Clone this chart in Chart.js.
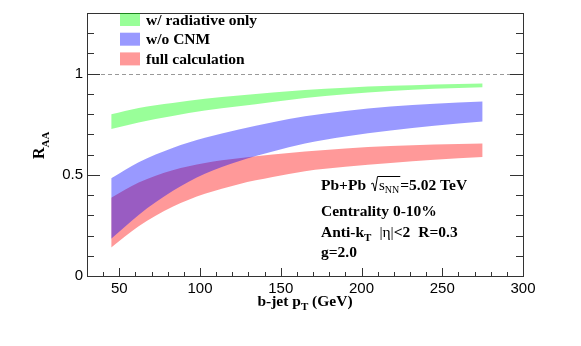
<!DOCTYPE html>
<html>
<head>
<meta charset="utf-8">
<script src="https://cdn.jsdelivr.net/npm/chart.js@4.4.1/dist/chart.umd.min.js"></script>
<style>
  html, body { margin: 0; padding: 0; background: #fff; }
  #raa { display: block; }
</style>
</head>
<body>
<canvas id="raa" width="581" height="346"></canvas>
<script>
const ptGrid = [45, 62, 83, 103, 124, 145, 165, 190, 218, 245, 275];

// w/ radiative only
const radHigh = [0.799, 0.831, 0.855, 0.876, 0.892, 0.907, 0.920, 0.931, 0.940, 0.947, 0.952];
const radLow  = [0.727, 0.759, 0.791, 0.818, 0.839, 0.860, 0.880, 0.899, 0.915, 0.925, 0.933];

// w/o CNM
const woCnmHigh = [0.483, 0.562, 0.633, 0.683, 0.724, 0.760, 0.790, 0.816, 0.838, 0.852, 0.863];
const woCnmLow  = [0.184, 0.302, 0.420, 0.505, 0.567, 0.615, 0.655, 0.690, 0.719, 0.743, 0.764];

// full calculation
const fullHigh = [0.387, 0.462, 0.523, 0.559, 0.582, 0.600, 0.615, 0.630, 0.642, 0.650, 0.655];
const fullLow  = [0.141, 0.246, 0.342, 0.406, 0.454, 0.489, 0.518, 0.540, 0.559, 0.575, 0.588];

const bandNames = ["w/ radiative only", "w/o CNM", "full calculation"];
const bandColors = ["rgba(0,255,0,0.4)", "rgba(0,0,255,0.4)", "rgba(255,0,0,0.4)"];

const xLabelTicks = [50, 100, 150, 200, 250, 300];
const yLabelTicks = [0, 0.5, 1];

const SERIF = '"Liberation Serif", "Times New Roman", serif';
const SANS = '"Liberation Sans", Arial, sans-serif';
const BIG = "bold 15.5px " + SERIF;
const SUB = "bold 11px " + SERIF;

const toPts = (ys) => ptGrid.map((x, i) => ({ x: x, y: ys[i] }));

const edge = (ys, color, fill, order) => ({
  data: toPts(ys),
  borderWidth: 0,
  borderColor: "transparent",
  backgroundColor: color,
  pointRadius: 0,
  fill: fill,
  order: order,
  cubicInterpolationMode: "monotone",
});

const isLabel = (v, list) => list.some((t) => Math.abs(v - t) < 1e-6);

// writes a run of [text, font, dy] pieces starting at x, returns end x
const writeRun = (ctx, x, y, pieces) => {
  pieces.forEach(([txt, font, dy]) => {
    ctx.font = font;
    ctx.fillText(txt, x, y + (dy || 0));
    x += ctx.measureText(txt).width;
  });
  return x;
};

// frame, ticks, dashed unity line, legend, texts
const decorations = {
  id: "decorations",
  beforeDatasetsDraw(chart) {
    const { ctx, chartArea: a, scales } = chart;
    const y1 = scales.y.getPixelForValue(1);
    ctx.save();
    ctx.strokeStyle = "#999";
    ctx.lineWidth = 1;
    ctx.setLineDash([4, 3]);
    ctx.beginPath();
    ctx.moveTo(a.left, Math.round(y1) + 0.5);
    ctx.lineTo(a.right, Math.round(y1) + 0.5);
    ctx.stroke();
    ctx.restore();
  },
  afterDatasetsDraw(chart) {
    const { ctx, chartArea: a, scales } = chart;
    ctx.save();
    ctx.strokeStyle = "#333";
    ctx.lineWidth = 1;
    ctx.setLineDash([]);
    ctx.strokeRect(Math.round(a.left) + 0.5, Math.round(a.top) + 0.5,
      Math.round(a.right - a.left), Math.round(a.bottom - a.top));

    // y ticks, both sides
    scales.y.ticks.forEach((t) => {
      const py = Math.round(scales.y.getPixelForValue(t.value)) + 0.5;
      const len = isLabel(t.value, yLabelTicks) ? 13 : 7;
      ctx.beginPath();
      ctx.moveTo(a.left, py); ctx.lineTo(a.left + len, py);
      ctx.moveTo(a.right, py); ctx.lineTo(a.right - len, py);
      ctx.stroke();
    });
    // x ticks, bottom only
    scales.x.ticks.forEach((t) => {
      const px = Math.round(scales.x.getPixelForValue(t.value)) + 0.5;
      const len = isLabel(t.value, xLabelTicks) ? 8 : 4;
      ctx.beginPath();
      ctx.moveTo(px, a.bottom); ctx.lineTo(px, a.bottom - len);
      ctx.stroke();
    });

    // legend
    ctx.textBaseline = "middle";
    ctx.textAlign = "left";
    ctx.font = BIG;
    bandNames.forEach((name, i) => {
      const cy = 19.5 + i * 19.7;
      ctx.fillStyle = bandColors[i];
      ctx.fillRect(120, cy - 6.5, 20, 13);
      ctx.fillStyle = "#000";
      ctx.fillText(name, 146, cy + 1);
    });

    // annotation block
    ctx.textBaseline = "alphabetic";
    ctx.fillStyle = "#000";
    const x0 = 321;
    let x = writeRun(ctx, x0, 190, [["Pb+Pb", BIG]]);
    // sqrt(s_NN)
    const sx0 = x + 5;
    ctx.strokeStyle = "#000";
    ctx.lineWidth = 1;
    x = writeRun(ctx, sx0 + 8, 190, [["s", "15px " + SERIF], ["NN", "10px " + SERIF, 3]]);
    ctx.beginPath();
    ctx.moveTo(sx0, 184);
    ctx.lineTo(sx0 + 2, 183);
    ctx.lineTo(sx0 + 4, 191);
    ctx.lineTo(sx0 + 6.5, 176.5);
    ctx.lineTo(x + 1, 176.5);
    ctx.stroke();
    writeRun(ctx, x + 1, 190, [["=5.02 TeV", BIG]]);

    writeRun(ctx, x0, 216, [["Centrality 0-10%", BIG]]);

    x = writeRun(ctx, x0, 237, [["Anti-k", BIG], ["T", SUB, 4]]);
    x = writeRun(ctx, x + 8, 237, [["|\u03B7|", "15.5px " + SERIF], ["<2", BIG]]);
    writeRun(ctx, x + 8, 237, [["R=0.3", BIG]]);

    writeRun(ctx, x0, 257, [["g=2.0", BIG]]);

    // x title
    const cx = (a.left + a.right) / 2;
    const parts = [["b-jet p", BIG], ["T", SUB, 4], [" (GeV)", BIG]];
    let tw = 0;
    parts.forEach(([txt, font]) => { ctx.font = font; tw += ctx.measureText(txt).width; });
    writeRun(ctx, cx - tw / 2, 306, parts);

    // y title
    ctx.translate(44, 159);
    ctx.rotate(-Math.PI / 2);
    writeRun(ctx, 0, 0, [["R", "bold 16px " + SERIF], ["AA", SUB, 5]]);
    ctx.restore();
  },
};

new Chart(document.getElementById("raa"), {
  type: "line",
  data: {
    datasets: [
      edge(radHigh, bandColors[0], "+1", 2),
      edge(radLow, bandColors[0], false, 2),
      edge(woCnmHigh, bandColors[1], "+1", 0),
      edge(woCnmLow, bandColors[1], false, 0),
      edge(fullHigh, bandColors[2], "+1", 1),
      edge(fullLow, bandColors[2], false, 1),
    ],
  },
  options: {
    responsive: false,
    animation: false,
    layout: { padding: { left: 0, top: 7, right: 58, bottom: 0 } },
    plugins: {
      legend: { display: false },
      tooltip: { enabled: false },
    },
    scales: {
      x: {
        type: "linear",
        min: 30,
        max: 300,
        grid: { display: false, drawTicks: false },
        border: { display: false },
        afterFit: (s) => { s.height = 70; },
        ticks: {
          stepSize: 10,
          autoSkip: false,
          maxRotation: 0,
          padding: 4,
          color: "#000",
          font: { family: SANS, size: 15 },
          callback: (v) => (isLabel(v, xLabelTicks) ? String(v) : ""),
        },
      },
      y: {
        min: 0,
        max: 1.3,
        grid: { display: false, drawTicks: false },
        border: { display: false },
        afterFit: (s) => { s.width = 87; },
        ticks: {
          stepSize: 0.1,
          autoSkip: false,
          padding: 4,
          color: "#000",
          font: { family: SANS, size: 15 },
          callback: (v) => (isLabel(v, yLabelTicks) ? String(Math.round(v * 10) / 10) : ""),
        },
      },
    },
  },
  plugins: [decorations],
});
</script>
</body>
</html>
